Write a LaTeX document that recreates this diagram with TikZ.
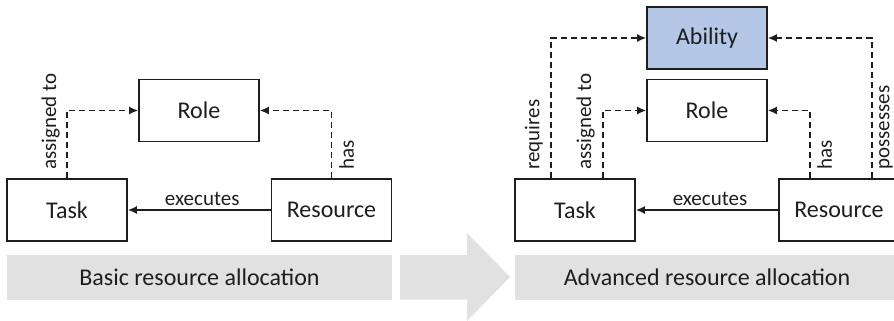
\documentclass[tikz,border=0pt]{standalone}
\usepackage{fontspec}
\setmainfont{Carlito}
\usetikzlibrary{arrows.meta}
\definecolor{inkgray}{HTML}{1E1E1E}
\definecolor{bargray}{HTML}{E1E1E1}
\definecolor{abilityblue}{HTML}{B4C7E7}
\tikzset{
  entity/.style={draw=inkgray, line width=1.6pt, fill=white, minimum width=120pt,
    minimum height=62pt, inner sep=0pt, text=inkgray, font=\fontsize{24}{28}\selectfont},
  banner/.style={fill=bargray, minimum width=385pt, minimum height=44.5pt,
    inner sep=0pt, text=inkgray, font=\fontsize{24}{28}\selectfont},
  assoc/.style={draw=inkgray, line width=1.6pt, dash pattern=on 6pt off 4pt,
    -{Latex[length=9pt,width=8pt]}},
  exec/.style={draw=inkgray, line width=1.6pt, -{Latex[length=9pt,width=8pt]}},
  edgelbl/.style={text=inkgray, inner sep=2pt, font=\fontsize{21}{25}\selectfont},
  vlbl/.style={edgelbl, rotate=90}
}
\begin{document}
\begin{tikzpicture}[x=1pt, y=-1pt]
  \clip (0,0) rectangle (894,321);
  % basic allocation
  \node[entity] (lrole) at (199,110.5) {Role};
  \node[entity] (ltask) at (67,210) {Task};
  \node[entity] (lres) at (331.5,210) {Resource};
  \node[banner] (lbar) at (199.5,277.5) {Basic resource allocation};
  \draw[assoc] (ltask.north) |- (lrole.west);
  \draw[assoc] (lres.north) |- (lrole.east);
  \draw[exec] (lres.west) -- node[edgelbl, above, xshift=3pt, yshift=2pt] (lexec) {executes} (ltask.east);
  \node[vlbl, anchor=south west] (lassign) at (62,172) {assigned to};
  \node[vlbl, anchor=north west] (lhas) at (337,172) {has};
  % transition
  \fill[bargray] (400,255) -- (467,255) -- (467,233) -- (510,277) -- (467,321)
    -- (467,299.5) -- (400,299.5) -- cycle;
  % advanced allocation
  \node[entity, fill=abilityblue] (rability) at (707,38) {Ability};
  \node[entity] (rrole) at (707,110.5) {Role};
  \node[entity] (rtask) at (575,210) {Task};
  \node[entity] (rres) at (839,210) {Resource};
  \node[banner, minimum width=384pt] (rbar) at (707,277.5) {Advanced resource allocation};
  \draw[assoc] ([xshift=-24pt]rtask.north) |- (rability.west);
  \draw[assoc] ([xshift=28pt]rtask.north) |- (rrole.west);
  \draw[assoc] ([xshift=-29pt]rres.north) |- (rrole.east);
  \draw[assoc] ([xshift=33pt]rres.north) |- (rability.east);
  \draw[exec] (rres.west) -- node[edgelbl, above, xshift=3pt, yshift=2pt] (rexec) {executes} (rtask.east);
  \node[vlbl, anchor=south west] (rreq) at (545,172) {requires};
  \node[vlbl, anchor=south west] (rassign) at (597,172) {assigned to};
  \node[vlbl, anchor=north west] (rhas) at (815,172) {has};
  \node[vlbl, anchor=north west] (rposs) at (877,172) {possesses};
\end{tikzpicture}
\end{document}
